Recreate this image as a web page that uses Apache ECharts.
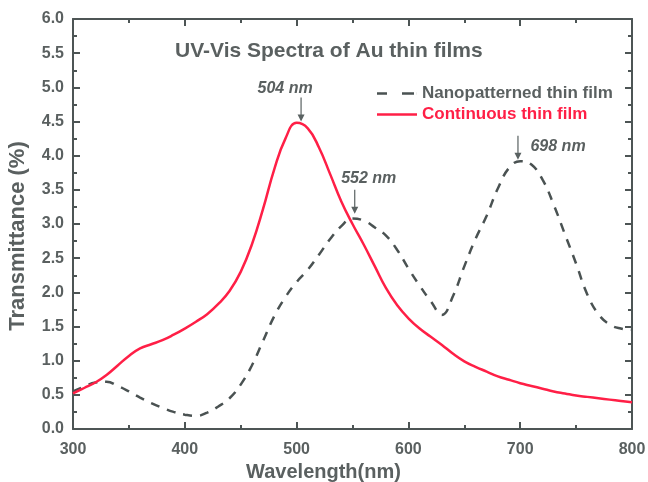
<!DOCTYPE html>
<html>
<head>
<meta charset="utf-8">
<script src="https://cdn.jsdelivr.net/npm/echarts@6/dist/echarts.min.js"></script>
<style>html,body{margin:0;padding:0;background:#fff}#c{width:648px;height:482px}</style>
</head>
<body>
<div id="c"></div>
<script>
const wavelengths = [300,310,320,330,340,350,360,370,380,390,400,410,420,430,440,450,460,470,480,490,500,510,520,530,540,550,560,570,580,590,600,610,620,630,640,650,660,670,680,690,700,710,720,730,740,750,760,770,780,790,800];
const continuousFilm = [0.52,0.60,0.68,0.79,0.93,1.07,1.18,1.24,1.30,1.38,1.47,1.57,1.68,1.83,2.02,2.30,2.70,3.22,3.80,4.25,4.48,4.40,4.12,3.73,3.33,3.00,2.70,2.38,2.06,1.81,1.62,1.47,1.35,1.23,1.10,0.99,0.91,0.84,0.77,0.72,0.67,0.63,0.59,0.55,0.52,0.49,0.47,0.45,0.43,0.41,0.39];
const nanopatternedFilm = [0.55,0.62,0.68,0.69,0.63,0.55,0.46,0.38,0.31,0.25,0.21,0.19,0.24,0.33,0.45,0.65,0.93,1.29,1.65,1.93,2.15,2.33,2.55,2.78,2.97,3.08,3.05,2.95,2.83,2.62,2.35,2.10,1.87,1.67,1.95,2.38,2.78,3.12,3.52,3.82,3.92,3.87,3.65,3.28,2.85,2.42,1.97,1.68,1.53,1.47,1.45];
const seriesNames = ['Nanopatterned thin film','Continuous thin film'];
const peakWavelengths = [504, 552, 698];
const peakValues = [4.50, 3.15, 3.94];
const peakLabels = ['504 nm','552 nm','698 nm'];
const peakSeries = [1, 0, 0];
const xTicks = [300,400,500,600,700,800];
const yTicks = ['0.0','0.5','1.0','1.5','2.0','2.5','3.0','3.5','4.0','4.5','5.0','5.5','6.0'];

const AXIS = '#4d5555';
const TEXT = '#5a6060';
const RED = '#ff1f46';
const GRAY = '#4a5252';
const FONT = '"Liberation Sans", Arial, sans-serif';

function pairs(ys){ return wavelengths.map((w,i)=>[w, ys[i]]); }

const arrowPath = 'path://M3.4,0 L4.6,0 L4.6,17 L7.5,17 L4,24 L0.5,17 L3.4,17 Z';
const dashedIcon = 'path://M0,0 L10,0 L10,2.5 L0,2.5 Z M25,0 L37,0 L37,2.5 L25,2.5 Z M39.9,0 L40,0 L40,2.5 L39.9,2.5 Z';
const solidIcon = 'path://M0,0 L40,0 L40,2.5 L0,2.5 Z';
const labelPlacement = [
  {position:'top', offset:[-16,0], distance:1},
  {position:'top', offset:[14,0], distance:3},
  {position:'right', offset:[0,-1], distance:9}
];
function peaksFor(s){
  const out = [];
  peakWavelengths.forEach((w,i)=>{
    if (peakSeries[i] !== s) return;
    out.push({
      coord:[w, peakValues[i]],
      value: peakLabels[i],
      label: Object.assign({show:true, formatter: peakLabels[i], color:TEXT, fontStyle:'italic', fontWeight:'bold', fontSize:16, fontFamily:FONT}, labelPlacement[i])
    });
  });
  return out;
}
function markPointFor(s){
  return {
    symbol: arrowPath,
    symbolSize:[7,24],
    symbolOffset:[0,'-50%'],
    itemStyle:{color:'#5a6262'},
    silent:true,
    animation:false,
    data: peaksFor(s)
  };
}

const axisCommon = {
  axisLine:{show:true, onZero:false, lineStyle:{color:AXIS, width:2}},
  axisTick:{show:true, inside:true, length:7, lineStyle:{color:AXIS, width:2}},
  minorTick:{show:true, splitNumber:2, length:4, lineStyle:{color:AXIS, width:2}},
  splitLine:{show:false}
};

const chart = echarts.init(document.getElementById('c'), null, {renderer:'canvas'});
chart.setOption({
  animation:false,
  backgroundColor:'#fff',
  title:{
    text:'UV-Vis Spectra of Au thin films',
    left:170, top:36,
    textStyle:{color:TEXT, fontWeight:'bold', fontSize:21, fontFamily:FONT}
  },
  legend:{
    orient:'vertical', left:372, top:80,
    itemWidth:40, itemHeight:3, itemGap:4,
    textStyle:{fontSize:17, fontWeight:'bold', fontFamily:FONT, color:TEXT},
    data:[
      {name:seriesNames[0], icon:dashedIcon, itemStyle:{color:GRAY}, textStyle:{color:TEXT}},
      {name:seriesNames[1], icon:solidIcon, itemStyle:{color:RED}, textStyle:{color:RED}}
    ]
  },
  grid:{left:73, right:16, top:19, bottom:53, containLabel:false, outerBoundsMode:'none'},
  xAxis:[
    Object.assign({}, axisCommon, {
      type:'value', min:300, max:800, interval:100, position:'bottom',
      name:'Wavelength(nm)', nameLocation:'middle', nameGap:29,
      nameTextStyle:{color:TEXT, fontWeight:'bold', fontSize:20, fontFamily:FONT, padding:[0,58,0,0]},
      axisLabel:{color:TEXT, fontWeight:'bold', fontSize:16, fontFamily:FONT, margin:13,
        formatter:(v)=> xTicks.includes(v) ? String(v) : ''}
    }),
    Object.assign({}, axisCommon, {
      type:'value', min:300, max:800, interval:100, position:'top',
      axisLabel:{show:false}
    })
  ],
  yAxis:[
    Object.assign({}, axisCommon, {
      type:'value', min:0, max:6, interval:0.5, position:'left',
      name:'Transmittance (%)', nameLocation:'middle', nameGap:44,
      nameTextStyle:{color:TEXT, fontWeight:'bold', fontSize:22, fontFamily:FONT, padding:[0,24,0,0]},
      axisLabel:{color:TEXT, fontWeight:'bold', fontSize:16, fontFamily:FONT, margin:9,
        formatter:(v)=> yTicks[Math.round(v*2)]}
    }),
    Object.assign({}, axisCommon, {
      type:'value', min:0, max:6, interval:0.5, position:'right',
      axisLabel:{show:false}
    })
  ],
  series:[
    {
      name:seriesNames[0], type:'line', smooth:0.45, showSymbol:false, symbol:'none',
      data:pairs(nanopatternedFilm),
      lineStyle:{color:GRAY, width:2.5, type:[9,8]},
      itemStyle:{color:GRAY},
      z:2,
      markPoint: markPointFor(0)
    },
    {
      name:seriesNames[1], type:'line', smooth:0.45, showSymbol:false, symbol:'none',
      data:pairs(continuousFilm),
      lineStyle:{color:RED, width:2.5},
      itemStyle:{color:RED},
      z:3,
      markPoint: markPointFor(1)
    }
  ]
});
</script>
</body>
</html>
